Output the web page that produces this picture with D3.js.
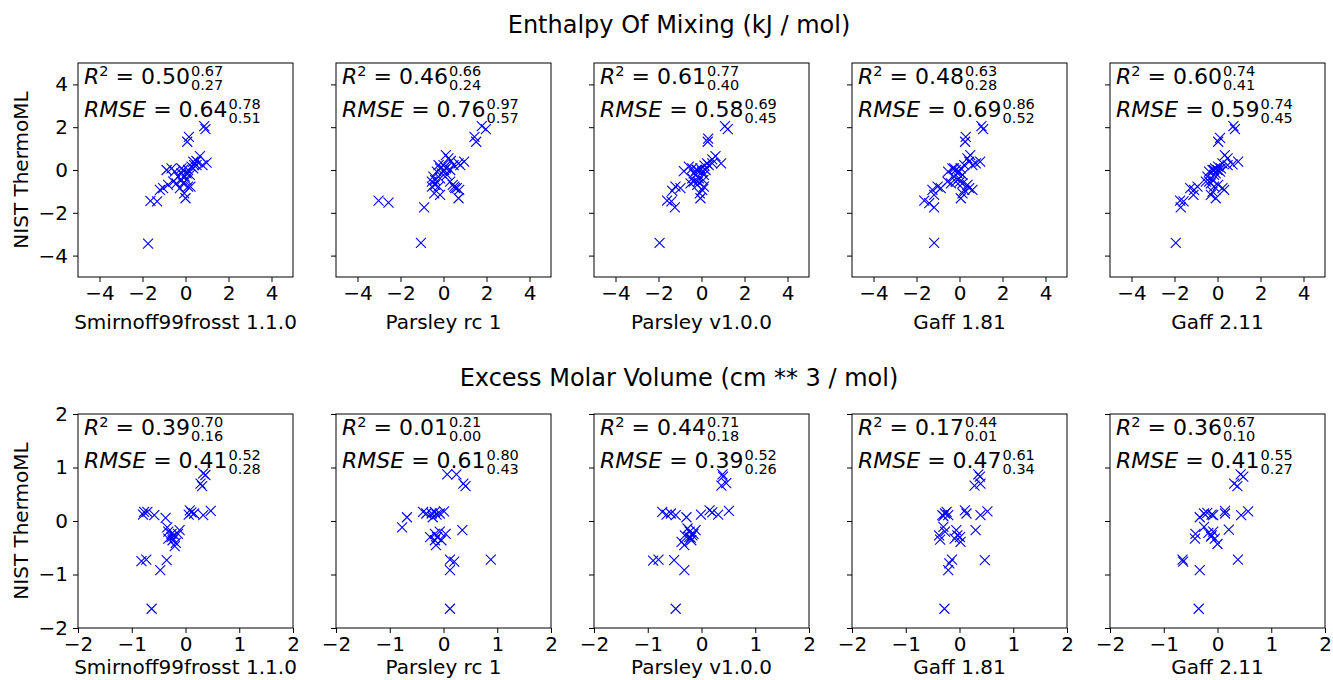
<!DOCTYPE html>
<html>
<head>
<meta charset="utf-8">
<script src="https://cdn.jsdelivr.net/npm/d3@7"></script>
<style>
  body { margin: 0; background: #fff; }
  svg text { font-family: "DejaVu Sans", sans-serif; white-space: pre; fill: #000; }
</style>
</head>
<body>
<svg id="chart" width="1333" height="680"></svg>
<script>
// ---- categories / labels ----
const forceFields = ["Smirnoff99frosst 1.1.0", "Parsley rc 1", "Parsley v1.0.0", "Gaff 1.81", "Gaff 2.11"];
const rowTitles = ["Enthalpy Of Mixing (kJ / mol)", "Excess Molar Volume (cm ** 3 / mol)"];
const yAxisLabel = "NIST ThermoML";
const enthalpyTicks = [-4, -2, 0, 2, 4];
const volumeTicks = [-2, -1, 0, 1, 2];

// ---- statistics: [value, upper, lower] ----
const enthalpyR2   = [[0.50, 0.67, 0.27], [0.46, 0.66, 0.24], [0.61, 0.77, 0.40], [0.48, 0.63, 0.28], [0.60, 0.74, 0.41]];
const enthalpyRMSE = [[0.64, 0.78, 0.51], [0.76, 0.97, 0.57], [0.58, 0.69, 0.45], [0.69, 0.86, 0.52], [0.59, 0.74, 0.45]];
const volumeR2     = [[0.39, 0.70, 0.16], [0.01, 0.21, 0.00], [0.44, 0.71, 0.18], [0.17, 0.44, 0.01], [0.36, 0.67, 0.10]];
const volumeRMSE   = [[0.41, 0.52, 0.28], [0.61, 0.80, 0.43], [0.39, 0.52, 0.26], [0.47, 0.61, 0.34], [0.41, 0.55, 0.27]];

// ---- enthalpy of mixing: [simulated, NIST] ----
const enthalpySmirnoff = [[0.87,2.05],[0.93,1.91],[0.16,1.55],[0.08,1.32],[0.98,0.34],[0.67,0.65],[0.51,0.42],[0.36,0.39],
  [0.40,0.23],[0.28,0.16],[0.79,0.23],[0.12,0],[-0.11,0],[-0.19,-0.16],[-0.03,-0.31],[0.05,-0.47],[-0.11,-0.62],
  [0.12,-0.78],[0.23,-0.78],[0,-1.32],[-0.06,-1.09],[-0.26,-0.85],[-0.42,-0.62],[-0.57,-0.54],[-0.81,-0.70],
  [-0.88,0],[-0.65,0.08],[-0.50,-0.08],[-1.19,-0.93],[-1.04,-0.85],[-1.63,-1.44],[-1.32,-1.47],[-1.74,-3.44],
  [-0.34,-0.31],[-0.19,-0.47],[0.20,-0.23],[0.36,0.08],[0.51,0.23],[0.05,-0.16],[-0.19,0.08]];
const enthalpyParsleyRc1 = [[1.78,2.05],[1.97,1.91],[1.44,1.55],[1.52,1.32],[0.96,0.39],[0.70,0.31],[0.78,0.23],[0.11,0.70],
  [0.23,0.54],[0.34,0.42],[0,0.23],[-0.16,0.08],[0.12,0.08],[-0.31,-0.08],[-0.08,-0.16],[0.16,-0.23],[-0.47,-0.31],
  [-0.16,-0.39],[-0.54,-0.54],[-0.39,-0.70],[-0.54,-0.78],[-0.23,-0.78],[-0.43,-1.09],[-0.16,-1.16],[0.31,-0.54],
  [0.43,-0.70],[0.54,-0.85],[0.62,-0.85],[0.73,-0.93],[0.70,-1.32],[0.50,-0.78],[-0.90,-1.75],[-3.02,-1.43],
  [-2.56,-1.52],[-1.05,-3.41],[0.03,0],[-0.23,0.23],[0.31,0],[0.47,0.23],[-0.39,-0.47]];
const enthalpyParsley100 = [[1.09,2.05],[1.22,1.91],[0.31,1.47],[0.29,1.32],[0.91,0.31],[0.65,0.65],[0.50,0.50],[0.26,0.31],
  [0.14,0.20],[0.34,0.23],[-0.05,0.08],[-0.20,0],[-0.43,0.08],[-0.59,0.16],[-0.82,-0.05],[-0.25,-0.23],[-0.12,-0.39],
  [0.08,-0.47],[-0.36,-0.54],[-0.51,-0.62],[-0.20,-0.70],[0.11,-0.78],[0.03,-0.93],[-0.05,-1.32],[-0.08,-1.09],
  [-0.98,-0.85],[-1.21,-0.78],[-1.36,-0.98],[-1.60,-1.43],[-1.40,-1.47],[-1.24,-1.75],[-1.95,-3.41],[-0.36,-0.16],
  [0.03,-0.08],[0.19,0],[0.50,0.31],[-0.43,-0.39],[-0.23,0],[0.11,-0.23],[-0.17,-0.54]];
const enthalpyGaff181 = [[1.02,2.05],[1.10,1.91],[0.29,1.55],[0.26,1.32],[0.96,0.39],[0.50,0.70],[0.37,0.54],[0.76,0.31],
  [0.22,0.23],[0.06,0.08],[-0.17,0],[-0.33,0.08],[-0.53,-0.08],[-0.09,-0.16],[0.14,-0.23],[-0.02,-0.39],[-0.40,-0.62],
  [-0.56,-0.54],[-0.17,-0.54],[0.14,-0.62],[0.37,-0.70],[0.45,-0.85],[0.60,-0.93],[0.22,-0.93],[0.06,-1.32],
  [0.14,-1.09],[-1.02,-0.78],[-0.87,-0.85],[-1.26,-0.93],[-1.18,-1.16],[-1.64,-1.43],[-1.41,-1.55],[-1.18,-1.75],
  [-1.18,-3.41],[-0.25,-0.31],[-0.02,-0.08],[0.45,0.39],[0.60,0.23],[-0.25,0.08],[0.03,-0.54]];
const enthalpyGaff211 = [[0.74,2.05],[0.81,1.91],[0.12,1.50],[0.03,1.32],[0.96,0.39],[0.34,0.70],[0.47,0.54],[0.70,0.26],
  [0.23,0.31],[0.03,0.16],[-0.16,0],[-0.39,-0.08],[-0.08,-0.16],[-0.47,-0.31],[-0.23,-0.47],[-0.54,-0.54],[-0.31,-0.62],
  [-0.16,-0.78],[0.03,-0.70],[0.23,-0.85],[0.31,-0.93],[-0.08,-1.32],[-0.31,-1.16],[-0.23,-1.01],[-0.93,-0.78],
  [-1.09,-0.93],[-1.27,-0.85],[-1.12,-1.16],[-1.74,-1.43],[-1.58,-1.47],[-1.71,-1.75],[-1.94,-3.41],[-0.23,0],
  [0.16,0.08],[0.47,0.23],[-0.16,-0.23],[-0.39,-0.54],[0,0],[-0.11,0.08],[0.12,-0.08]];

// ---- excess molar volume: [simulated, NIST] ----
const volumeSmirnoff = [[0.33,0.89],[0.37,0.86],[0.28,0.70],[0.31,0.65],[-0.77,0.17],[-0.71,0.17],[-0.79,0.12],[-0.58,0.11],
  [-0.37,0.06],[0.08,0.20],[0.11,0.16],[0.06,0.12],[0.16,0.14],[0.33,0.11],[0.47,0.19],[-0.34,-0.12],[-0.32,-0.20],
  [-0.26,-0.24],[-0.20,-0.27],[-0.11,-0.17],[-0.14,-0.24],[-0.32,-0.33],[-0.24,-0.36],[-0.18,-0.41],[-0.20,-0.47],
  [-0.26,-0.30],[-0.35,-0.73],[-0.73,-0.72],[-0.82,-0.75],[-0.47,-0.92],[-0.63,-1.64]];
const volumeParsleyRc1 = [[0.07,0.87],[0.24,0.87],[0.37,0.70],[0.41,0.65],[-0.38,0.17],[-0.32,0.14],[-0.22,0.14],[-0.16,0.17],
  [-0.13,0.12],[-0.07,0.14],[0.01,0.18],[-0.20,0.07],[-0.68,0.07],[-0.77,-0.12],[0.35,-0.17],[0.04,-0.24],[-0.25,-0.30],
  [-0.16,-0.24],[-0.12,-0.30],[-0.07,-0.20],[-0.16,-0.36],[-0.04,-0.36],[-0.14,-0.45],[0.12,-0.72],[0.20,-0.76],
  [0.12,-0.92],[0.88,-0.72],[0.12,-1.64]];
const volumeParsley100 = [[0.39,0.87],[0.40,0.83],[0.37,0.66],[0.46,0.71],[-0.73,0.17],[-0.65,0.12],[-0.57,0.14],[-0.48,0.11],
  [-0.28,0.07],[-0.01,0.12],[0.15,0.20],[0.20,0.16],[0.31,0.12],[0.51,0.19],[-0.26,-0.14],[-0.22,-0.20],[-0.31,-0.27],
  [-0.23,-0.30],[-0.15,-0.24],[-0.11,-0.17],[-0.20,-0.31],[-0.37,-0.39],[-0.32,-0.45],[-0.17,-0.27],[-0.51,-0.73],
  [-0.90,-0.74],[-0.80,-0.72],[-0.32,-0.92],[-0.48,-1.64],[-0.19,-0.36]];
const volumeGaff181 = [[0.35,0.87],[0.38,0.83],[0.28,0.66],[0.39,0.70],[-0.32,0.11],[-0.27,0.14],[-0.24,0.17],[-0.21,0.11],
  [-0.30,0.09],[0.10,0.20],[0.13,0.14],[0.39,0.11],[0.52,0.18],[-0.30,-0.11],[-0.27,-0.20],[-0.38,-0.27],[-0.36,-0.35],
  [-0.06,-0.17],[-0.04,-0.27],[0.01,-0.30],[0.02,-0.39],[-0.09,-0.33],[0.30,-0.17],[-0.14,-0.72],[-0.19,-0.79],
  [-0.21,-0.92],[0.47,-0.73],[-0.28,-1.64]];
const volumeGaff211 = [[0.43,0.87],[0.48,0.83],[0.31,0.70],[0.37,0.65],[-0.33,0.07],[-0.25,0.14],[-0.19,0.15],[-0.11,0.12],
  [-0.08,0.11],[0.14,0.19],[0.14,0.14],[0.44,0.11],[0.57,0.18],[-0.25,-0.11],[-0.41,-0.24],[-0.42,-0.33],[-0.17,-0.22],
  [-0.12,-0.29],[-0.08,-0.20],[-0.05,-0.33],[0,-0.43],[0.21,-0.16],[-0.65,-0.72],[-0.64,-0.76],[-0.33,-0.92],
  [0.38,-0.72],[-0.35,-1.64],[-0.11,-0.27]];

const rows = [
  { title: rowTitles[0], domain: [-5, 5], ticks: enthalpyTicks, r2: enthalpyR2, rmse: enthalpyRMSE,
    points: [enthalpySmirnoff, enthalpyParsleyRc1, enthalpyParsley100, enthalpyGaff181, enthalpyGaff211] },
  { title: rowTitles[1], domain: [-2, 2], ticks: volumeTicks, r2: volumeR2, rmse: volumeRMSE,
    points: [volumeSmirnoff, volumeParsleyRc1, volumeParsley100, volumeGaff181, volumeGaff211] }
];

// ---- layout ----
const panelW = 215, panelH = 214;
const panelLeft0 = 78, panelStep = 258;
const rowTop = [63, 414];
const titleY = [33, 386];
const titleX = 679;
const xLabelOffset = [52, 46];
const FONT = 20, ANNOT = 22, SCRIPT = 14.5;
const markerHalf = 5;
const fmt = d3.format("d");

const svg = d3.select("#chart");

rows.forEach((row, ri) => {
  svg.append("text")
    .attr("x", titleX).attr("y", titleY[ri])
    .attr("text-anchor", "middle")
    .attr("font-size", 24)
    .text(row.title);

  // shared y label
  svg.append("text")
    .attr("transform", `translate(28,${rowTop[ri] + panelH / 2}) rotate(-90)`)
    .attr("text-anchor", "middle")
    .attr("font-size", FONT)
    .text(yAxisLabel);

  forceFields.forEach((name, pi) => {
    const g = svg.append("g")
      .attr("transform", `translate(${panelLeft0 + pi * panelStep},${rowTop[ri]})`);
    const x = d3.scaleLinear().domain(row.domain).range([0, panelW]);
    const y = d3.scaleLinear().domain(row.domain).range([panelH, 0]);

    const xAxis = g.append("g")
      .attr("transform", `translate(0,${panelH})`)
      .call(d3.axisBottom(x).tickValues(row.ticks).tickSize(5).tickPadding(4).tickFormat(fmt));
    const yAxis = g.append("g")
      .call(d3.axisLeft(y).tickValues(row.ticks).tickSize(5).tickPadding(5)
        .tickFormat(pi === 0 ? fmt : () => ""));
    [xAxis, yAxis].forEach(a => {
      a.attr("font-size", FONT).attr("font-family", null);
      a.select(".domain").remove();
      a.selectAll(".tick line").attr("stroke", "#000").attr("stroke-width", 1);
      a.selectAll(".tick text").attr("fill", "#000");
    });

    // frame
    g.append("rect")
      .attr("width", panelW).attr("height", panelH)
      .attr("fill", "none").attr("stroke", "#000").attr("stroke-width", 1);

    // x-axis label
    g.append("text")
      .attr("x", panelW / 2).attr("y", panelH + xLabelOffset[ri])
      .attr("text-anchor", "middle")
      .attr("font-size", FONT)
      .text(name);

    // markers
    g.append("g").selectAll("path")
      .data(row.points[pi])
      .join("path")
      .attr("transform", d => `translate(${x(d[0])},${y(d[1])})`)
      .attr("d", `M${-markerHalf},${-markerHalf}L${markerHalf},${markerHalf}M${-markerHalf},${markerHalf}L${markerHalf},${-markerHalf}`)
      .attr("stroke", "#0000ff").attr("stroke-width", 1.1).attr("fill", "none");

    // statistics annotations: value with upper bound as superscript, lower as subscript
    const stat = (lineY, symbol, squared, vals) => {
      const t = g.append("text").attr("x", 6).attr("y", lineY).attr("font-size", ANNOT);
      t.append("tspan").attr("font-style", "italic").text(symbol);
      let back = 0;
      if (squared) {
        t.append("tspan").attr("font-size", SCRIPT).attr("dy", -8).text("2");
        back = 8;
      }
      t.append("tspan").attr("dy", back).text(" = " + vals[0].toFixed(2));
      const w = t.node().getComputedTextLength();
      g.append("text").attr("x", 6 + w + 1).attr("y", lineY - 8)
        .attr("font-size", SCRIPT).text(vals[1].toFixed(2));
      g.append("text").attr("x", 6 + w + 1).attr("y", lineY + 6)
        .attr("font-size", SCRIPT).text(vals[2].toFixed(2));
    };
    stat(21, "R", true, row.r2[pi]);
    stat(53.5, "RMSE", false, row.rmse[pi]);
  });
});
</script>
</body>
</html>
